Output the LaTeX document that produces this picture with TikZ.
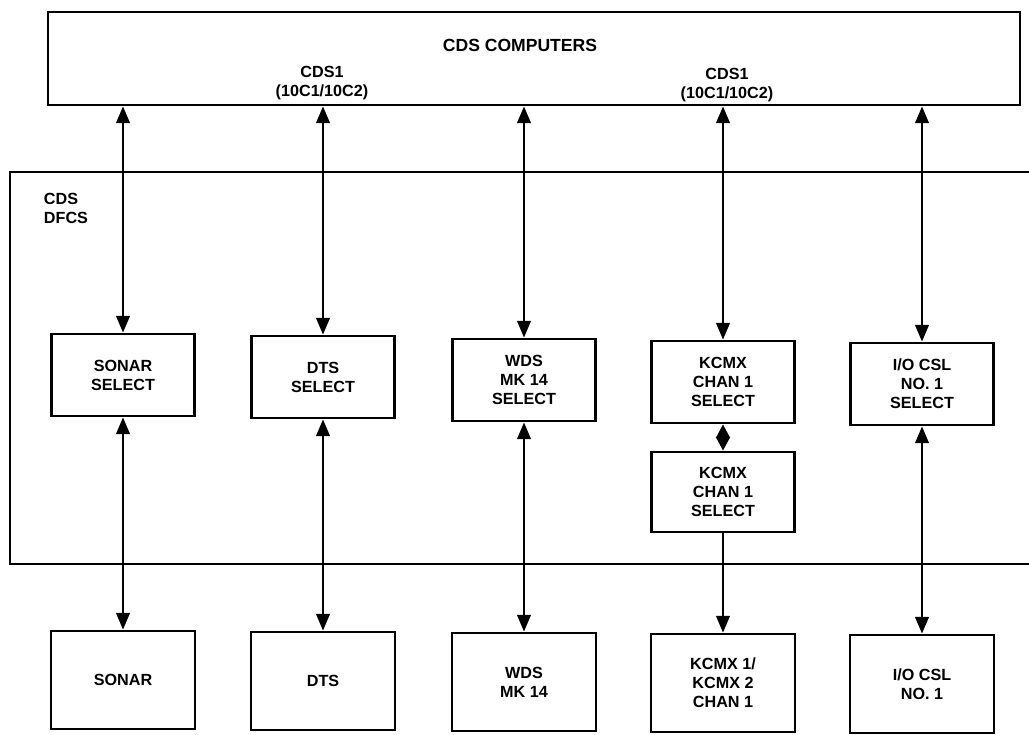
\documentclass[tikz,border=0pt]{standalone}
\usepackage{fontspec}
\setmainfont{Liberation Sans}
\usepackage{tikz}
\usetikzlibrary{arrows.meta,positioning}
\tikzset{
  selectbox/.style={draw,line width=2pt,minimum width=3.575cm,minimum height=2.05cm,align=center,inner sep=1mm,font=\bfseries\fontsize{11.5}{13.5}\selectfont},
  devicebox/.style={draw,line width=2pt,minimum width=3.6cm,minimum height=2.45cm,align=center,inner sep=1mm,font=\bfseries\fontsize{11.5}{13.5}\selectfont},
  label/.style={align=center,font=\bfseries\fontsize{11.5}{13.5}\selectfont},
  link/.style={{Triangle[length=4.2mm,width=3.4mm]}-{Triangle[length=4.2mm,width=3.4mm]},line width=1.7pt},
  feed/.style={-{Triangle[length=4.2mm,width=3.4mm]},line width=1.7pt}
}
\begin{document}
\begin{tikzpicture}
  \useasboundingbox (0,0) rectangle (25.725,-18.35);
  % computers
  \node[draw,line width=2pt,minimum width=24.3cm,minimum height=2.325cm] (cds) at (13.35,-1.4625) {};
  \node[label,font=\bfseries\fontsize{12.5}{14}\selectfont] (cdstitle) at (13.0,-1.125) {CDS COMPUTERS};
  \node[label] (cdsa) at (8.05,-2.075) {CDS1\\(10C1/10C2)};
  \node[label] (cdsb) at (18.175,-2.125) {CDS1\\(10C1/10C2)};
  % DFCS frame, open on the right
  \draw[line width=2pt] (25.725,-4.3) -- (0.25,-4.3) -- (0.25,-14.1) -- (25.725,-14.1);
  \node[label,align=left] (dfcs) at (1.65,-5.2) {CDS\\DFCS};
  % select units
  \node[selectbox] (sonarsel) at (3.075,-9.375) {SONAR\\SELECT};
  \node[selectbox] (dtssel) at (8.075,-9.425) {DTS\\SELECT};
  \node[selectbox] (wdssel) at (13.1,-9.5) {WDS\\MK 14\\SELECT};
  \node[selectbox] (kcmxsel) at (18.075,-9.55) {KCMX\\CHAN 1\\SELECT};
  \node[selectbox] (iosel) at (23.05,-9.6) {I/O CSL\\NO. 1\\SELECT};
  \node[selectbox,minimum height=2.0cm] (kcmxselb) at (18.075,-12.3) {KCMX\\CHAN 1\\SELECT};
  % external units
  \node[devicebox] (sonar) at (3.075,-17.0) {SONAR};
  \node[devicebox] (dts) at (8.075,-17.025) {DTS};
  \node[devicebox] (wds) at (13.1,-17.05) {WDS\\MK 14};
  \node[devicebox] (kcmx) at (18.075,-17.075) {KCMX 1/\\KCMX 2\\CHAN 1};
  \node[devicebox] (io) at (23.05,-17.1) {I/O CSL\\NO. 1};
  % connections
  \foreach \s in {sonarsel,dtssel,wdssel,kcmxsel,iosel}
    \draw[link] (\s.north) -- (\s.north |- cds.south);
  \draw[link] (sonarsel) -- (sonar);
  \draw[link] (dtssel) -- (dts);
  \draw[link] (wdssel) -- (wds);
  \draw[{Triangle[length=3.45mm,width=3.5mm]}-{Triangle[length=3.45mm,width=3.5mm]},line width=1.7pt] (kcmxsel) -- (kcmxselb);
  \draw[feed] (kcmxselb) -- (kcmx);
  \draw[link] (iosel) -- (io);
\end{tikzpicture}
\end{document}
